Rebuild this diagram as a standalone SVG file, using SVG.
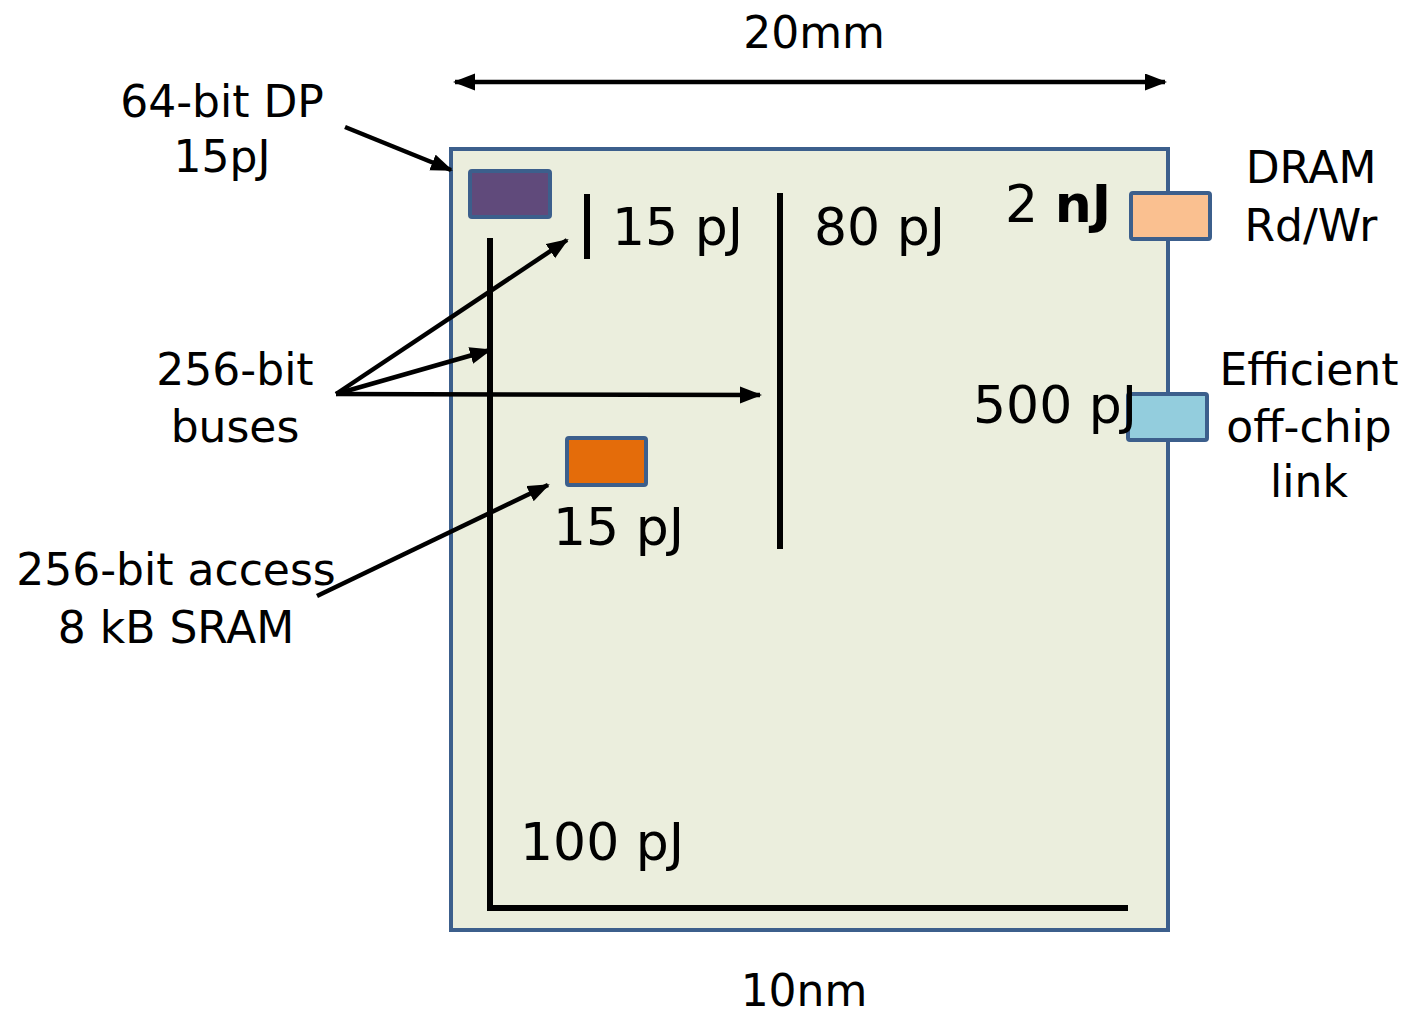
<svg xmlns="http://www.w3.org/2000/svg" width="1404" height="1014" viewBox="0 0 1404 1014">
<style>
text{font-family:"DejaVu Sans","Liberation Sans",sans-serif;fill:#000}
.lbl{font-size:44px}
.val{font-size:52px}
.conn{stroke:#000;stroke-width:4.5;fill:none}
.bar{stroke:#000;stroke-width:6;fill:none}
</style>
<defs>
<marker id="ah" markerUnits="userSpaceOnUse" markerWidth="24" markerHeight="20" refX="20" refY="8.5" orient="auto-start-reverse">
<path d="M0,0 L22,8.5 L0,17 z" fill="#000"/>
</marker>
</defs>
<rect width="1404" height="1014" fill="#fff"/>
<g id="chip">
<rect x="451" y="149" width="717" height="781" fill="#ebeedd" stroke="#3c5f8c" stroke-width="4"/>
</g>
<g id="dp">
<rect x="470" y="171" width="80" height="46" rx="2" fill="#604a7b" stroke="#3c5f8c" stroke-width="4"/>
</g>
<g id="sram">
<rect x="567" y="438" width="79" height="47" rx="2" fill="#e46c0a" stroke="#3c5f8c" stroke-width="4"/>
</g>
<g id="dram">
<rect x="1131" y="193" width="79" height="46" rx="2" fill="#fac090" stroke="#3c5f8c" stroke-width="4"/>
</g>
<g id="link">
<rect x="1128" y="394" width="79" height="46" rx="2" fill="#93cddd" stroke="#3c5f8c" stroke-width="4"/>
</g>
<g id="wires">
<line class="bar" x1="587" y1="194" x2="587" y2="259"/>
<line class="bar" x1="780" y1="193" x2="780" y2="549"/>
<polyline class="bar" points="490,238 490,908 1128,908"/>
</g>
<g id="connectors">
<line class="conn" x1="455" y1="82" x2="1165" y2="82" marker-start="url(#ah)" marker-end="url(#ah)"/>
<line class="conn" x1="345" y1="127" x2="451" y2="170" marker-end="url(#ah)"/>
<line class="conn" x1="336" y1="394" x2="567" y2="240" marker-end="url(#ah)"/>
<line class="conn" x1="336" y1="394" x2="490" y2="350" marker-end="url(#ah)"/>
<line class="conn" x1="336" y1="394" x2="760" y2="395" marker-end="url(#ah)"/>
<line class="conn" x1="317" y1="596" x2="548" y2="485" marker-end="url(#ah)"/>
</g>
<g id="labels">
<text class="lbl" x="222" y="117" text-anchor="middle">64-bit DP</text>
<text class="lbl" x="222" y="172" text-anchor="middle">15pJ</text>
<text class="lbl" x="814" y="48" text-anchor="middle">20mm</text>
<text class="val" x="612" y="245">15 pJ</text>
<text class="val" x="814" y="245">80 pJ</text>
<text class="val" x="1005" y="222">2 <tspan font-weight="bold">nJ</tspan></text>
<text class="lbl" x="1311" y="183" text-anchor="middle">DRAM</text>
<text class="lbl" x="1311" y="241" text-anchor="middle">Rd/Wr</text>
<text class="lbl" x="235" y="385" text-anchor="middle">256-bit</text>
<text class="lbl" x="235" y="442" text-anchor="middle">buses</text>
<text class="val" x="973" y="423">500 pJ</text>
<text class="lbl" x="1309" y="385" text-anchor="middle">Efficient</text>
<text class="lbl" x="1309" y="442" text-anchor="middle">off-chip</text>
<text class="lbl" x="1309" y="497" text-anchor="middle">link</text>
<text class="val" x="553" y="545">15 pJ</text>
<text class="lbl" x="176" y="585" text-anchor="middle">256-bit access</text>
<text class="lbl" x="176" y="643" text-anchor="middle">8 kB SRAM</text>
<text class="val" x="520" y="860">100 pJ</text>
<text class="lbl" x="804" y="1006" text-anchor="middle">10nm</text>
</g>
</svg>
